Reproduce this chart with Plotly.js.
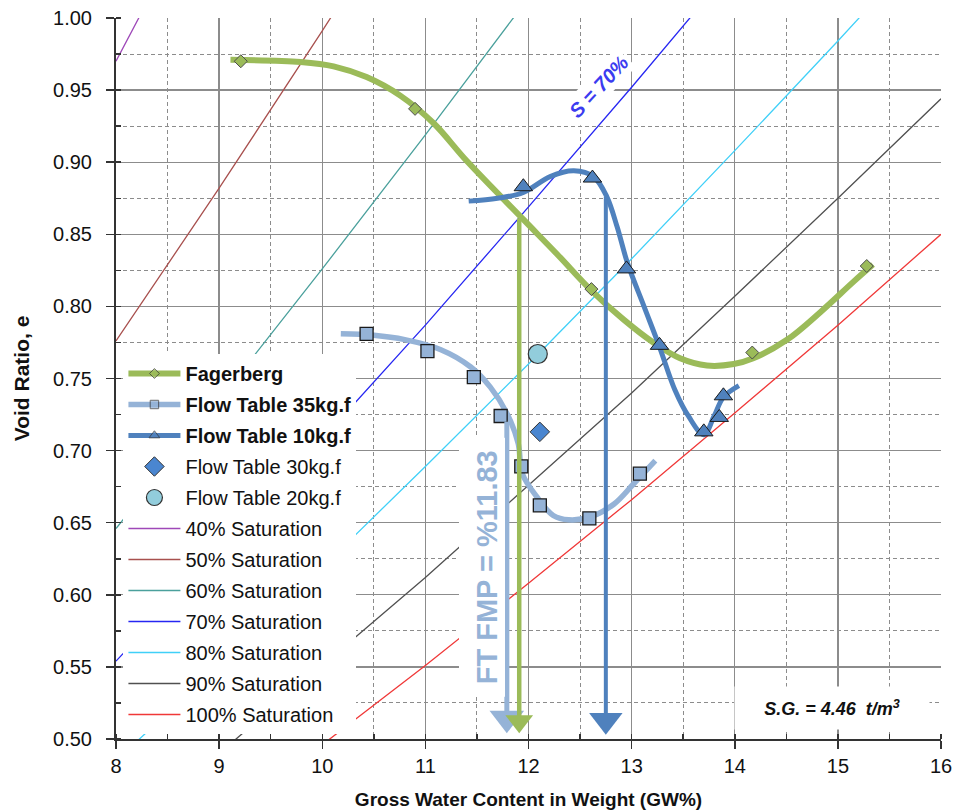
<!DOCTYPE html>
<html>
<head>
<meta charset="utf-8">
<script src="https://cdn.plot.ly/plotly-3.0.1.min.js"></script>
<style>html,body{margin:0;padding:0;background:#fff;}#chart{width:954px;height:812px;}</style>
</head>
<body>
<div id="chart"></div>
<script>
// ---------- DATA ----------
// Saturation lines: void ratio at each gross water content (GW%) tick
const gwGrid = [8, 9, 10, 11, 12, 13, 14, 15, 16];
const sat40  = [0.970, 1.103, 1.239, 1.378, 1.520, 1.666, 1.815, 1.968, 2.124];
const sat50  = [0.776, 0.882, 0.991, 1.102, 1.216, 1.333, 1.452, 1.574, 1.699];
const sat60  = [0.646, 0.735, 0.826, 0.919, 1.014, 1.111, 1.210, 1.312, 1.416];
const sat70  = [0.554, 0.630, 0.708, 0.787, 0.869, 0.952, 1.037, 1.124, 1.214];
const sat80  = [0.485, 0.551, 0.619, 0.689, 0.760, 0.833, 0.908, 0.984, 1.062];
const sat90  = [0.431, 0.490, 0.551, 0.612, 0.676, 0.740, 0.807, 0.875, 0.944];
const sat100 = [0.388, 0.441, 0.496, 0.551, 0.608, 0.666, 0.726, 0.787, 0.850];
const satNames = ['40% Saturation','50% Saturation','60% Saturation','70% Saturation','80% Saturation','90% Saturation','100% Saturation'];

// Fagerberg
const fagX = [9.21, 10.90, 12.61, 14.17, 15.28];
const fagY = [0.970, 0.937, 0.812, 0.768, 0.828];
const fagCurveX = [9.11, 9.79, 10.11, 10.43, 10.76, 11.08, 11.40, 11.94, 12.28, 12.61, 12.92, 13.21, 13.47, 13.73, 13.99, 14.18, 14.51, 14.83, 15.15, 15.34];
const fagCurveY = [0.971, 0.9695, 0.9665, 0.959, 0.946, 0.927, 0.901, 0.861, 0.836, 0.811, 0.791, 0.775, 0.764, 0.759, 0.760, 0.764, 0.777, 0.796, 0.817, 0.829];

// Flow Table 35kg.f
const ft35X = [10.43, 11.02, 11.47, 11.73, 11.93, 12.11, 12.59, 13.08];
const ft35Y = [0.781, 0.769, 0.751, 0.724, 0.689, 0.662, 0.653, 0.684];
const ft35CurveX = [10.18, 10.50, 10.80, 11.15, 11.44, 11.63, 11.79, 11.90, 11.94, 12.08, 12.24, 12.39, 12.60, 12.83, 13.02, 13.23];
const ft35CurveY = [0.781, 0.780, 0.777, 0.770, 0.758, 0.744, 0.726, 0.705, 0.684, 0.668, 0.655, 0.652, 0.654, 0.663, 0.677, 0.693];

// Flow Table 10kg.f
const ft10X = [11.95, 12.62, 12.95, 13.27, 13.70, 13.85, 13.89];
const ft10Y = [0.883, 0.889, 0.826, 0.773, 0.713, 0.723, 0.738];
const ft10CurveX = [11.42, 11.70, 11.95, 12.21, 12.44, 12.63, 12.76, 12.86, 12.96, 13.12, 13.27, 13.42, 13.55, 13.70, 13.80, 13.89, 14.04];
const ft10CurveY = [0.873, 0.875, 0.879, 0.890, 0.894, 0.890, 0.876, 0.855, 0.830, 0.800, 0.772, 0.742, 0.724, 0.711, 0.724, 0.737, 0.745];

// single points
const ft30X = [12.11], ft30Y = [0.713];
const ft20X = [12.09], ft20Y = [0.767];

// FMP arrows: x, start (top), tip (bottom)
const arrowX     = [11.79, 11.91, 12.75];
const arrowStart = [0.720, 0.861, 0.876];
const arrowTip   = [0.504, 0.504, 0.503];

// ---------- STYLES ----------
const W = 954, H = 812, M = {l: 116, r: 13, t: 18, b: 73};
const yRange = [0.5, 1.0];
const pxPerY = (H - M.t - M.b) / (yRange[1] - yRange[0]);

const satColors = ['#9E48B8', '#A8504E', '#4AA09C', '#2626F2', '#40D0F8', '#505050', '#F03838'];
const cFag = '#9BBB59', cFT35 = '#95B3D7', cFT10 = '#4F81BD', cFT30 = '#4A86D0', cFT20 = '#92CDDC';

const traces = [];
const satSeries = [sat40, sat50, sat60, sat70, sat80, sat90, sat100];
satSeries.forEach((ys, i) => {
  traces.push({
    x: gwGrid, y: ys, type: 'scatter', mode: 'lines', name: satNames[i],
    line: {color: satColors[i], width: 1.3}, legendrank: 6 + i, legendgroup: 'g' + (6 + i),
    hoverinfo: 'skip'
  });
});

// legend symbol helper: markers hidden on the curve, but legend shows the symbol
function legendMarker(n, color, symbol, size) {
  const sizes = [], cols = [], lcols = [];
  for (let i = 0; i < n; i++) {
    sizes.push(i === 0 ? 0 : size);
    cols.push(i === 0 ? color : 'rgba(0,0,0,0)');
    lcols.push(i === 0 ? '#333333' : 'rgba(0,0,0,0)');
  }
  return {symbol: symbol, size: sizes, color: cols, line: {color: lcols, width: 1}};
}

const curves = [
  {x: fagCurveX, y: fagCurveY, name: '<b>Fagerberg</b>', color: cFag, w: 6, sym: 'diamond', ms: 8, rank: 1},
  {x: ft35CurveX, y: ft35CurveY, name: '<b>Flow Table 35kg.f</b>', color: cFT35, w: 5.5, sym: 'square', ms: 9, rank: 2},
  {x: ft10CurveX, y: ft10CurveY, name: '<b>Flow Table 10kg.f</b>', color: cFT10, w: 5, sym: 'triangle-up', ms: 10, rank: 3}
];
curves.forEach(c => {
  traces.push({
    x: c.x, y: c.y, type: 'scatter', mode: 'lines+markers', name: c.name,
    line: {color: c.color, width: c.w, shape: 'spline', smoothing: 1},
    marker: legendMarker(c.x.length, c.color, c.sym, c.ms),
    legendrank: c.rank, legendgroup: 'g' + c.rank, hoverinfo: 'skip'
  });
});

traces.push({x: fagX, y: fagY, type: 'scatter', mode: 'markers', showlegend: false, legendgroup: 'g1',
  marker: {symbol: 'diamond', size: 10, color: cFag, line: {color: '#4d4d4d', width: 1}}});
traces.push({x: ft35X, y: ft35Y, type: 'scatter', mode: 'markers', showlegend: false, legendgroup: 'g2',
  marker: {symbol: 'square', size: 13, color: cFT35, line: {color: '#1a1a1a', width: 1.3}}});
traces.push({x: ft10X, y: ft10Y, type: 'scatter', mode: 'markers', showlegend: false, legendgroup: 'g3',
  marker: {symbol: 'triangle-up', size: 16, color: cFT10, line: {color: '#1a1a1a', width: 1}}});
traces.push({x: ft30X, y: ft30Y, type: 'scatter', mode: 'markers', name: 'Flow Table 30kg.f',
  legendrank: 4, legendgroup: 'g4',
  marker: {symbol: 'diamond', size: 15, color: cFT30, line: {color: '#333333', width: 1}}});
traces.push({x: ft20X, y: ft20Y, type: 'scatter', mode: 'markers', name: 'Flow Table 20kg.f',
  legendrank: 5, legendgroup: 'g5',
  marker: {symbol: 'circle', size: 19, color: cFT20, line: {color: '#333333', width: 1.2}}});

// arrows: shaft line + separate triangle head (tip placed at arrowTip)
const arrowColors = [cFT35, cFag, cFT10];
const arrowWidths = [5, 4.5, 4];
const arrowHeads  = [30, 24, 29];
arrowX.forEach((ax, i) => {
  const r = arrowHeads[i] / 2;
  const yc = arrowTip[i] + r / pxPerY;
  traces.push({
    x: [ax, ax], y: [arrowStart[i], yc], type: 'scatter', mode: 'lines', showlegend: false,
    line: {color: arrowColors[i], width: arrowWidths[i]}, hoverinfo: 'skip'
  });
  traces.push({
    x: [ax], y: [yc], type: 'scatter', mode: 'markers', showlegend: false, cliponaxis: false,
    marker: {symbol: 'triangle-down', size: arrowHeads[i], color: arrowColors[i], line: {width: 0}},
    hoverinfo: 'skip'
  });
});

const gridColor = '#8c8c8c';
const axisCommon = {
  showline: true, linecolor: '#333333', linewidth: 2,
  ticks: 'outside', ticklen: 8, tickwidth: 1.5, tickcolor: '#333333',
  showgrid: true, gridcolor: gridColor, gridwidth: 1.3, zeroline: false,
  tickfont: {size: 20, color: '#111111'}
};

const layout = {
  width: W, height: H,
  margin: M,
  paper_bgcolor: '#ffffff', plot_bgcolor: '#ffffff',
  font: {family: 'Liberation Sans, Arial, sans-serif', color: '#111111'},
  showlegend: true,
  xaxis: Object.assign({}, axisCommon, {
    range: [8, 16], tick0: 8, dtick: 1,
    minor: {dtick: 0.5, ticks: 'inside', ticklen: 5, tickcolor: '#333333', showgrid: true, gridcolor: gridColor, griddash: '4px,3px', gridwidth: 1},
    title: {text: '<b>Gross Water Content in Weight (GW%)</b>', font: {size: 19, color: '#111111'}, standoff: 17}
  }),
  yaxis: Object.assign({}, axisCommon, {
    range: yRange, tick0: 0.5, dtick: 0.05, tickformat: '.2f', ticklabelstandoff: 10,
    minor: {dtick: 0.025, ticks: 'inside', ticklen: 5, tickcolor: '#333333', showgrid: true, gridcolor: gridColor, griddash: '4px,3px', gridwidth: 1},
    title: {text: '<b>Void Ratio, e</b>', font: {size: 21, color: '#111111'}, standoff: 18}
  }),
  legend: {
    x: 0.009, y: 0.534, xanchor: 'left', yanchor: 'top',
    bgcolor: '#ffffff', borderwidth: 0, font: {size: 20, color: '#111111'},
    traceorder: 'grouped', tracegroupgap: 2, itemwidth: 52
  },
  annotations: [
    {x: 11.548, y: 0.619, xref: 'x', yref: 'y', text: '<b>FT FMP = %11.83</b>', textangle: -90,
      showarrow: false, font: {size: 29, color: cFT35}, bgcolor: '#ffffff', width: 256, height: 43, valign: 'bottom'},
    {x: 12.68, y: 0.952, xref: 'x', yref: 'y', text: '<b><i>S = 70%</i></b>', textangle: -47,
      showarrow: false, font: {size: 20, color: '#3b3bf0'}, bgcolor: '#ffffff', borderpad: 2},
    {x: 14.94, y: 0.5215, xref: 'x', yref: 'y', text: '<b><i>S.G. = 4.46 \u00a0t/m<sup>3</sup></i></b>',
      showarrow: false, font: {size: 18, color: '#111111'}, bgcolor: '#ffffff', width: 192, height: 40}
  ]
};

Plotly.newPlot('chart', traces, layout, {displayModeBar: false, staticPlot: true});
</script>
</body>
</html>
